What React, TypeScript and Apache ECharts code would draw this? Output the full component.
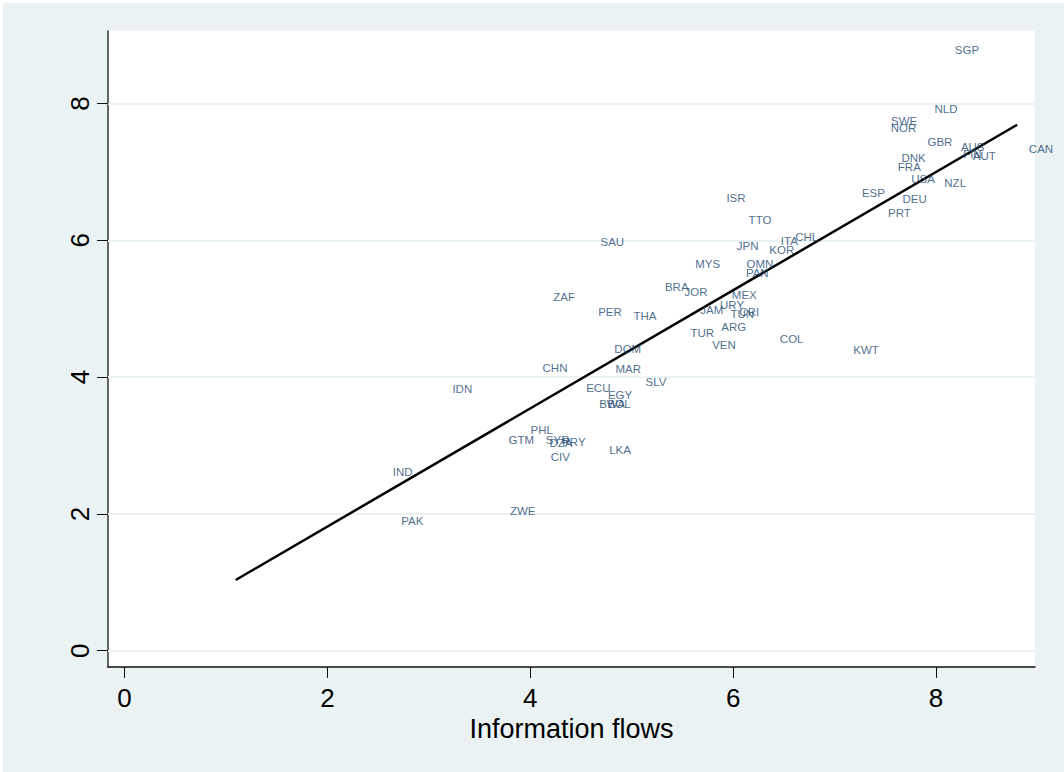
import React, { useEffect, useRef } from "react";
import * as echarts from "echarts";

const countries = [
  "SGP","NLD","SWE","NOR","GBR","AUS","FIN","AUT","CAN","DNK","FRA","USA","NZL","ESP","DEU","PRT",
  "ISR","TTO","SAU","JPN","ITA","CHL","KOR","MYS","OMN","PAN","BRA","JOR","ZAF","MEX","PER","THA",
  "JAM","URY","TUN","CRI","ARG","TUR","VEN","COL","KWT","DOM","CHN","MAR","SLV","IDN","ECU","EGY",
  "BWA","BOL","PHL","GTM","SYR","DZA","PRY","CIV","LKA","IND","ZWE","PAK",
];
const infoFlows = [
  8.305,8.098,7.686,7.679,8.039,8.362,8.359,8.476,9.035,7.779,7.737,7.873,8.189,7.383,7.790,7.640,
  6.028,6.265,4.809,6.143,6.554,6.725,6.479,5.749,6.265,6.238,5.444,5.634,4.333,6.110,4.786,5.131,
  5.789,5.989,6.090,6.159,6.006,5.696,5.910,6.577,7.310,4.961,4.244,4.966,5.240,3.330,4.671,4.885,
  4.806,4.875,4.113,3.912,4.270,4.303,4.430,4.296,4.885,2.743,3.926,2.837,
];
const outcome = [
  8.788,7.914,7.741,7.648,7.444,7.370,7.257,7.237,7.341,7.208,7.069,6.896,6.838,6.689,6.599,6.393,
  6.614,6.297,5.971,5.917,5.990,6.053,5.854,5.649,5.654,5.518,5.317,5.240,5.171,5.196,4.947,4.889,
  4.977,5.054,4.918,4.952,4.732,4.645,4.469,4.553,4.392,4.406,4.129,4.114,3.924,3.822,3.836,3.738,
  3.607,3.607,3.227,3.080,3.085,3.041,3.051,2.832,2.934,2.608,2.042,1.892,
];
const fitX = [1.096, 8.8];
const fitY = [1.034, 7.69];
const xTicks = [0, 2, 4, 6, 8];
const yTicks = [0, 2, 4, 6, 8];

export default function App() {
  const ref = useRef<HTMLDivElement>(null);
  useEffect(() => {
    if (!ref.current) return;
    const chart = echarts.init(ref.current, null, { renderer: "svg" });
    const font = "'Liberation Sans', Arial, sans-serif";
    chart.setOption({
      animation: false,
      backgroundColor: "#eaf2f3",
      grid: {
        left: 105,
        top: 28,
        width: 927,
        height: 636,
        show: true,
        backgroundColor: "#ffffff",
        borderWidth: 0,
      },
      xAxis: {
        type: "value",
        min: -0.163,
        max: 8.976,
        name: "Information flows",
        nameLocation: "middle",
        nameGap: 44,
        nameTextStyle: { fontSize: 27, color: "#000", fontFamily: font },
        axisLine: { show: true, onZero: false, lineStyle: { color: "#111", width: 1.5 } },
        axisTick: { show: true, length: 11, customValues: xTicks, lineStyle: { color: "#111", width: 1 } },
        axisLabel: { customValues: xTicks, fontSize: 26, color: "#000", fontFamily: font, margin: 18 },
        splitLine: { show: false },
      },
      yAxis: {
        type: "value",
        min: -0.238,
        max: 9.06,
        axisLine: { show: true, onZero: false, lineStyle: { color: "#333", width: 1.5 } },
        axisTick: { show: true, length: 11, customValues: yTicks, lineStyle: { color: "#111", width: 1 } },
        axisLabel: { customValues: yTicks, fontSize: 26, color: "#000", fontFamily: font, rotate: 90, margin: 15 },
        splitLine: { show: false },
      },
      series: [
        {
          type: "line",
          data: [],
          z: 1,
          silent: true,
          markLine: {
            silent: true,
            z: 1,
            symbol: "none",
            label: { show: false },
            lineStyle: { color: "#eaf2f3", width: 2, type: "solid" },
            data: yTicks.map((v) => ({ yAxis: v })),
          },
        },
        {
          type: "line",
          data: fitX.map((x, i) => [x, fitY[i]]),
          showSymbol: false,
          symbol: "none",
          z: 3,
          lineStyle: { color: "#000", width: 2.5 },
        },
        {
          type: "scatter",
          z: 4,
          clip: false,
          symbolSize: 1,
          itemStyle: { color: "rgba(0,0,0,0)" },
          data: countries.map((c, i) => ({ name: c, value: [infoFlows[i], outcome[i]] })),
          label: {
            show: true,
            position: "inside",
            formatter: "{b}",
            fontSize: 11.5,
            color: "#1a476f",
            fontFamily: font,
          },
        },
      ],
    });
    return () => chart.dispose();
  }, []);
  return (
    <div
      ref={ref}
      style={{ position: "absolute", left: 3, top: 3, width: 1061, height: 769 }}
    />
  );
}
